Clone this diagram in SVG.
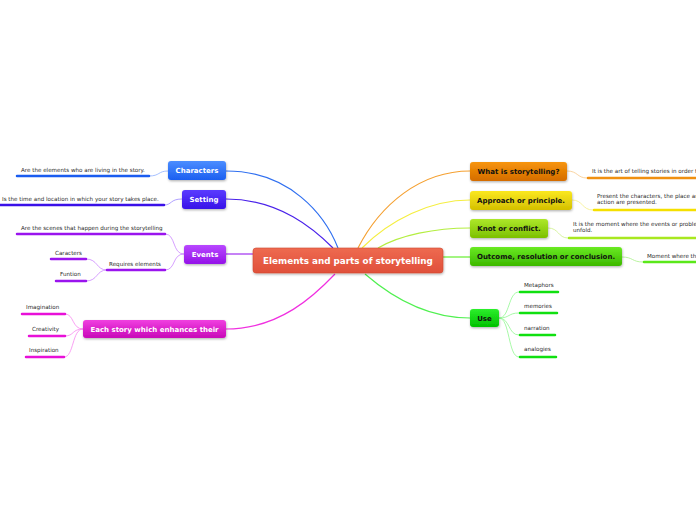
<svg xmlns="http://www.w3.org/2000/svg" width="696" height="520" viewBox="0 0 696 520">
<style>
.n{font-family:"DejaVu Sans",Verdana,sans-serif;font-weight:bold;font-size:7px;text-anchor:middle}
.w{fill:#fff}
.d{fill:#111}
.l{font-family:"DejaVu Sans",Verdana,sans-serif;font-size:5.6px;fill:#2a2a2a}
.c{fill:none;stroke-width:1.2}
.t{fill:none;stroke-width:0.8}
.u{stroke-width:2.5;stroke-linecap:round}
</style>
<defs>
<filter id="sh" x="-10%" y="-20%" width="120%" height="160%"><feDropShadow dx="0.5" dy="1.2" stdDeviation="0.9" flood-color="#000" flood-opacity="0.3"/></filter>
<linearGradient id="gC" x1="0" y1="0" x2="0" y2="1"><stop offset="0" stop-color="#ee6a50"/><stop offset="1" stop-color="#e0503a"/></linearGradient>
<linearGradient id="g1" x1="0" y1="0" x2="0" y2="1"><stop offset="0" stop-color="#4b8dff"/><stop offset="1" stop-color="#1c5ff0"/></linearGradient>
<linearGradient id="g2" x1="0" y1="0" x2="0" y2="1"><stop offset="0" stop-color="#5a3cff"/><stop offset="1" stop-color="#3812e8"/></linearGradient>
<linearGradient id="g3" x1="0" y1="0" x2="0" y2="1"><stop offset="0" stop-color="#b848ff"/><stop offset="1" stop-color="#9412e8"/></linearGradient>
<linearGradient id="g4" x1="0" y1="0" x2="0" y2="1"><stop offset="0" stop-color="#f040e0"/><stop offset="1" stop-color="#c808b8"/></linearGradient>
<linearGradient id="g5" x1="0" y1="0" x2="0" y2="1"><stop offset="0" stop-color="#f7950a"/><stop offset="1" stop-color="#d46c00"/></linearGradient>
<linearGradient id="g6" x1="0" y1="0" x2="0" y2="1"><stop offset="0" stop-color="#fbe820"/><stop offset="1" stop-color="#d4c000"/></linearGradient>
<linearGradient id="g7" x1="0" y1="0" x2="0" y2="1"><stop offset="0" stop-color="#ade82a"/><stop offset="1" stop-color="#7cc000"/></linearGradient>
<linearGradient id="g8" x1="0" y1="0" x2="0" y2="1"><stop offset="0" stop-color="#6aea22"/><stop offset="1" stop-color="#3cb800"/></linearGradient>
<linearGradient id="g9" x1="0" y1="0" x2="0" y2="1"><stop offset="0" stop-color="#2cef2c"/><stop offset="1" stop-color="#00c000"/></linearGradient>
</defs>
<rect width="696" height="520" fill="#fff"/>
<g id="connectors">
<path class="c" stroke="#2f6ff0" d="M226,171 C290,171 325,215 338,248"/>
<path class="c" stroke="#4a22ea" d="M226,199 C280,199 315,230 333,248"/>
<path class="c" stroke="#a030f0" d="M226,254 L253,254"/>
<path class="c" stroke="#f030e0" d="M226,329 C280,329 315,295 335,274"/>
<path class="c" stroke="#f5a030" d="M358,248 C380,205 420,171 470,171"/>
<path class="c" stroke="#f5ee40" d="M362,248 C390,220 430,200 470,200"/>
<path class="c" stroke="#b4ee40" d="M378,248 C400,235 435,228 470,228"/>
<path class="c" stroke="#66ee30" d="M443,257 L470,257"/>
<path class="c" stroke="#50f050" d="M365,274 C395,300 430,318 470,318"/>
<path class="t" stroke="#8fb0ff" d="M168,171 C158,171 160,176 149,176"/>
<path class="t" stroke="#9a88ff" d="M182,199 C170,199 172,205 164,205"/>
<path class="t" stroke="#cc88ff" d="M184,254 C172,254 176,234 165,234"/>
<path class="t" stroke="#cc88ff" d="M184,254 C172,254 176,270 165,270"/>
<path class="t" stroke="#cc88ff" d="M107,270 C96,270 98,259 86,259"/>
<path class="t" stroke="#cc88ff" d="M107,270 C96,270 98,281 86,281"/>
<path class="t" stroke="#f888f0" d="M83,329 C72,329 74,314 65,314"/>
<path class="t" stroke="#f888f0" d="M83,329 C72,329 74,336 65,336"/>
<path class="t" stroke="#f888f0" d="M83,329 C72,329 74,357 64,357"/>
<path class="t" stroke="#f8c888" d="M567,171 C578,171 577,178 587,178"/>
<path class="t" stroke="#f5ef88" d="M572,200 C583,200 582,210 593,210"/>
<path class="t" stroke="#cdf088" d="M548,228 C559,228 558,238 568,238"/>
<path class="t" stroke="#a8f088" d="M622,257 C633,257 632,262 643,262"/>
<path class="t" stroke="#90f890" d="M499,318 C510,318 508,292 519,292"/>
<path class="t" stroke="#90f890" d="M499,318 C510,318 508,313 519,313"/>
<path class="t" stroke="#90f890" d="M499,318 C510,318 508,335 519,335"/>
<path class="t" stroke="#90f890" d="M499,318 C510,318 508,357 519,357"/>
</g>
<g id="central"><rect x="253" y="248" width="190" height="25" rx="3" fill="url(#gC)" stroke="#d04830" stroke-width="0.6" filter="url(#sh)"/><text class="n w" x="348" y="264" style="font-size:8.8px">Elements and parts of storytelling</text></g>
<g id="characters"><rect x="168" y="161" width="58" height="19" rx="3" fill="url(#g1)" filter="url(#sh)"/><text class="n w" x="197" y="173">Characters</text></g>
<g id="characters-leaf"><line class="u" x1="17" y1="176" x2="149" y2="176" stroke="#1a5cf0"/><text class="l" x="21" y="172">Are the elements who are living in the story.</text></g>
<g id="setting"><rect x="182" y="190" width="44" height="19" rx="3" fill="url(#g2)" filter="url(#sh)"/><text class="n w" x="204" y="202">Setting</text></g>
<g id="setting-leaf"><line class="u" x1="0" y1="205" x2="164" y2="205" stroke="#3a10e8"/><text class="l" x="2" y="201">Is the time and location in which your story takes place.</text></g>
<g id="events"><rect x="184" y="245" width="42" height="19" rx="3" fill="url(#g3)" filter="url(#sh)"/><text class="n w" x="205" y="257">Events</text></g>
<g id="events-leaf1"><line class="u" x1="17" y1="234" x2="165" y2="234" stroke="#9a14ee"/><text class="l" x="21" y="230">Are the scenes that happen during the storytelling</text></g>
<g id="requires"><line class="u" x1="107" y1="270" x2="165" y2="270" stroke="#9a14ee"/><text class="l" x="109" y="266">Requires elements</text></g>
<g id="caracters"><line class="u" x1="51" y1="259" x2="86" y2="259" stroke="#9a14ee"/><text class="l" x="55" y="255">Caracters</text></g>
<g id="funtion"><line class="u" x1="56" y1="281" x2="86" y2="281" stroke="#9a14ee"/><text class="l" x="60" y="276">Funtion</text></g>
<g id="eachstory"><rect x="83" y="320" width="143" height="18" rx="3" fill="url(#g4)" filter="url(#sh)"/><text class="n w" x="154.5" y="331.5">Each story which enhances their</text></g>
<g id="imagination"><line class="u" x1="22" y1="314" x2="65" y2="314" stroke="#e810d8"/><text class="l" x="26" y="309">Imagination</text></g>
<g id="creativity"><line class="u" x1="29" y1="336" x2="65" y2="336" stroke="#e810d8"/><text class="l" x="32" y="331">Creativity</text></g>
<g id="inspiration"><line class="u" x1="26" y1="357" x2="64" y2="357" stroke="#e810d8"/><text class="l" x="29" y="352">Inspiration</text></g>
<g id="what"><rect x="470" y="162" width="97" height="19" rx="3" fill="url(#g5)" filter="url(#sh)"/><text class="n d" x="518.5" y="174">What is storytelling?</text></g>
<g id="what-leaf"><line class="u" x1="588" y1="178" x2="700" y2="178" stroke="#f09010"/><text class="l" x="592" y="173">It is the art of telling stories in order t</text></g>
<g id="approach"><rect x="470" y="191" width="102" height="19" rx="3" fill="url(#g6)" filter="url(#sh)"/><text class="n d" x="521" y="203">Approach or principle.</text></g>
<g id="approach-leaf"><line class="u" x1="594" y1="210" x2="700" y2="210" stroke="#f5e000"/><text class="l" x="597" y="198">Present the characters, the place an</text><text class="l" x="597" y="204">action are presented.</text></g>
<g id="knot"><rect x="470" y="219" width="78" height="19" rx="3" fill="url(#g7)" filter="url(#sh)"/><text class="n d" x="509" y="231">Knot or conflict.</text></g>
<g id="knot-leaf"><line class="u" x1="569" y1="238" x2="700" y2="238" stroke="#a8e820"/><text class="l" x="573" y="226">It is the moment where the events or proble</text><text class="l" x="573" y="232">unfold.</text></g>
<g id="outcome"><rect x="470" y="247" width="152" height="19" rx="3" fill="url(#g8)" filter="url(#sh)"/><text class="n d" x="546" y="259">Outcome, resolution or conclusion.</text></g>
<g id="outcome-leaf"><line class="u" x1="644" y1="262" x2="700" y2="262" stroke="#5ae81a"/><text class="l" x="647" y="258">Moment where th</text></g>
<g id="use"><rect x="470" y="309" width="29" height="18" rx="3" fill="url(#g9)" filter="url(#sh)"/><text class="n d" x="484.5" y="320.5">Use</text></g>
<g id="metaphors"><line class="u" x1="520" y1="292" x2="558" y2="292" stroke="#10e010"/><text class="l" x="524" y="287">Metaphors</text></g>
<g id="memories"><line class="u" x1="520" y1="313" x2="557" y2="313" stroke="#10e010"/><text class="l" x="524" y="308">memories</text></g>
<g id="narration"><line class="u" x1="520" y1="335" x2="555" y2="335" stroke="#10e010"/><text class="l" x="524" y="330">narration</text></g>
<g id="analogies"><line class="u" x1="520" y1="357" x2="556" y2="357" stroke="#10e010"/><text class="l" x="524" y="351">analogies</text></g>
</svg>
